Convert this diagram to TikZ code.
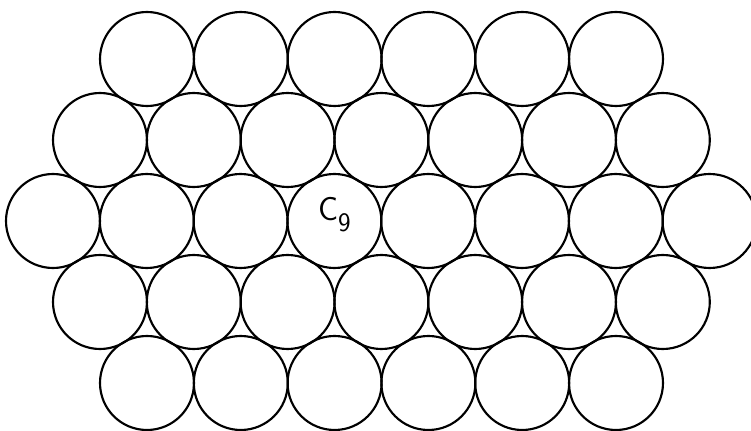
\documentclass[tikz,border=0pt]{standalone}
\usepackage{fontspec}
\begin{document}
\begin{tikzpicture}[
  x=0.75pt, y=-0.75pt,
  ball/.style={circle, draw, line width=1.6pt, minimum size=70.5pt, inner sep=0pt},
  lbl/.style={font=\sffamily\fontsize{25}{30}\selectfont, inner sep=0pt}]

  \useasboundingbox (0,0) rectangle (751,431);

  % ---- balls, row by row (row / count / first centre) ----------------------
  \foreach \r/\n/\x in {0/6/147, 1/7/100, 2/8/53, 3/7/100, 4/6/147} {
    \foreach \i in {1,...,\n} {
      \node[ball] (c-\r-\i) at ({\x+93.8*(\i-1)}, {59+81*\r}) {};
    }
  }

  % ---- label ---------------------------------------------------------------
  \node[lbl] (c9) at ([yshift=5pt]c-2-4.center)
    {C\raisebox{-8pt}{\fontsize{20}{24}\selectfont 9}};
\end{tikzpicture}
\end{document}
